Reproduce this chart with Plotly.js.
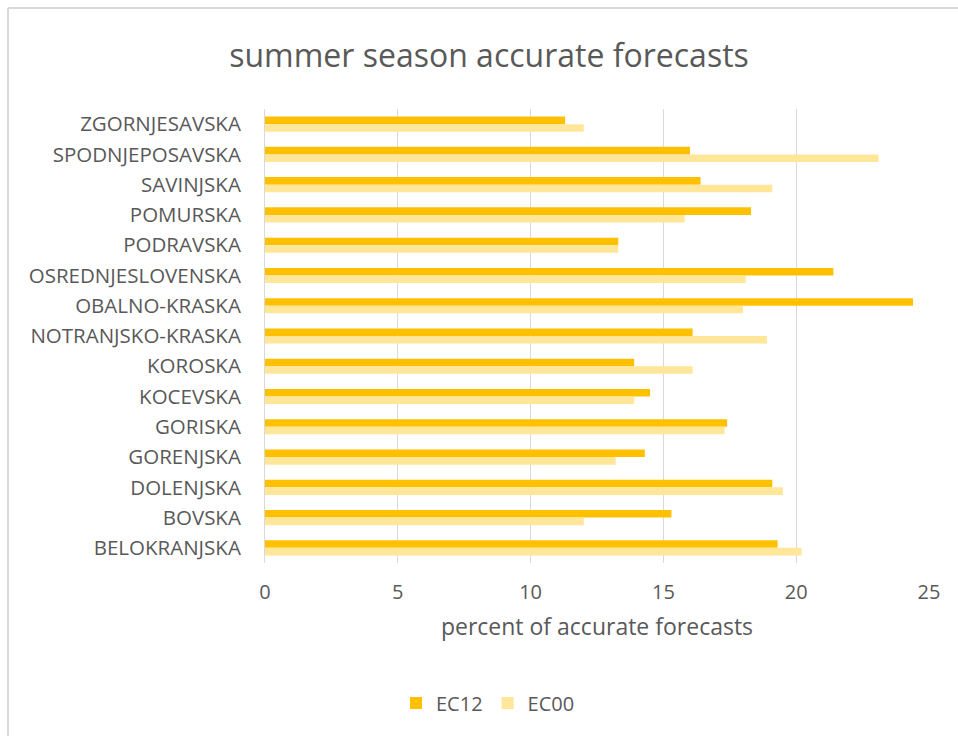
<!DOCTYPE html>
<html>
<head>
<meta charset="utf-8">
<script src="https://cdn.plot.ly/plotly-3.0.1.min.js"></script>
<style>
  html, body { margin: 0; padding: 0; background: #ffffff; }
  #chart { width: 958px; height: 736px; }
</style>
</head>
<body>
<div id="chart"></div>
<script>
// Regions, listed top to bottom as shown on the chart
const regions = [
  "ZGORNJESAVSKA", "SPODNJEPOSAVSKA", "SAVINJSKA", "POMURSKA", "PODRAVSKA",
  "OSREDNJESLOVENSKA", "OBALNO-KRASKA", "NOTRANJSKO-KRASKA", "KOROSKA",
  "KOCEVSKA", "GORISKA", "GORENJSKA", "DOLENJSKA", "BOVSKA", "BELOKRANJSKA"
];

// Percent of accurate forecasts per model run
const ec12 = [11.3, 16.0, 16.4, 18.3, 13.3, 21.4, 24.4, 16.1, 13.9, 14.5, 17.4, 14.3, 19.1, 15.3, 19.3];
const ec00 = [12.0, 23.1, 19.1, 15.8, 13.3, 18.1, 18.0, 18.9, 16.1, 13.9, 17.3, 13.2, 19.5, 12.0, 20.2];

const xTicks = [0, 5, 10, 15, 20, 25];

const textGray = "#595959";
const fontFamily = "'Open Sans', Lato, sans-serif";

const traces = [
  { type: "bar", orientation: "h", name: "EC12", y: regions, x: ec12,
    marker: { color: "#FFC000" }, hoverinfo: "x+y+name" },
  { type: "bar", orientation: "h", name: "EC00", y: regions, x: ec00,
    marker: { color: "#FFE699" }, hoverinfo: "x+y+name" }
];

const layout = {
  width: 958, height: 736,
  margin: { l: 265, r: 29, t: 109, b: 173, pad: 0 },
  paper_bgcolor: "#ffffff", plot_bgcolor: "#ffffff",
  font: { family: fontFamily, color: textGray },
  title: {
    text: "summer season accurate forecasts",
    font: { size: 32, color: textGray, family: fontFamily },
    x: 489 / 958, xanchor: "center", xref: "container",
    y: 1 - 56 / 736, yanchor: "middle", yref: "container"
  },
  barmode: "group", bargap: 0.5, bargroupgap: 0,
  xaxis: {
    range: [0, 25], tickvals: xTicks, ticktext: xTicks.map(String),
    showgrid: true, gridcolor: "#d9d9d9", gridwidth: 1,
    zeroline: false, showline: false, ticks: "",
    tickfont: { size: 20, color: textGray }, ticklabelstandoff: 15,
    title: { text: "percent of accurate forecasts", font: { size: 23, color: textGray }, standoff: 14 }
  },
  yaxis: {
    type: "category", autorange: "reversed",
    showgrid: false, zeroline: false,
    showline: true, linecolor: "#d9d9d9", linewidth: 1, ticks: "",
    tickfont: { size: 20.5, color: textGray }, ticklabelstandoff: 19
  },
  showlegend: true,
  legend: {
    orientation: "h", x: (488 - 265) / 664, xanchor: "center",
    y: (563 - 703) / 454, yanchor: "middle",
    font: { size: 20, color: textGray }, itemwidth: 30
  },
  shapes: [
    { type: "line", xref: "paper", yref: "paper",
      x0: (8 - 265) / 664, x1: (1000 - 265) / 664, y0: 1 + 101 / 454, y1: 1 + 101 / 454,
      line: { color: "#d9d9d9", width: 2 } },
    { type: "line", xref: "paper", yref: "paper",
      x0: (8 - 265) / 664, x1: (8 - 265) / 664, y0: 1 + 101 / 454, y1: -2,
      line: { color: "#d9d9d9", width: 2 } }
  ]
};

Plotly.newPlot("chart", traces, layout, { displayModeBar: false, staticPlot: true });
</script>
</body>
</html>
